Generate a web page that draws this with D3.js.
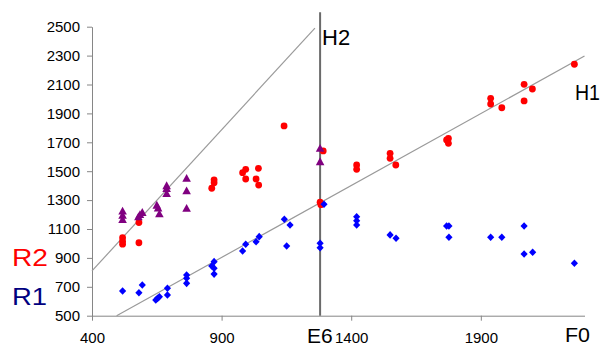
<!DOCTYPE html>
<html>
<head>
<meta charset="utf-8">
<script src="https://cdn.jsdelivr.net/npm/d3@7"></script>
<style>
  html, body { margin: 0; padding: 0; background: #fff; }
  svg text { font-family: "Liberation Sans", Arial, sans-serif; }
</style>
</head>
<body>
<div id="chart"></div>
<script>
// red circles
const redX = [518, 518, 518, 581, 581, 862, 871, 871, 981, 993, 993, 1033, 1042, 1043, 1141, 1292, 1280, 1283,
  1421, 1421, 1550, 1550, 1572, 1768, 1775, 1775, 1938, 1938, 1981, 2067, 2067, 2099, 2261];
const redY = [1040, 1015, 995, 1145, 1005, 1382, 1440, 1420, 1490, 1513, 1446, 1446, 1520, 1404, 1813, 1640, 1285, 1268,
  1543, 1513, 1624, 1589, 1543, 1716, 1727, 1693, 2004, 1965, 1939, 2101, 1986, 2069, 2240];

// blue diamonds
const blueX = [518, 581, 594, 646, 653, 660, 691, 691, 765, 765, 765, 862, 871, 871, 871, 981, 993, 1033, 1045,
  1142, 1164, 1151, 1280, 1280, 1295, 1421, 1421, 1421, 1550, 1573, 1768, 1777, 1777, 1938, 1981, 2067, 2067, 2100, 2261];
const blueY = [671, 659, 712, 609, 620, 631, 690, 643, 782, 759, 724, 844, 874, 828, 788, 948, 994, 1012, 1047,
  1167, 1128, 982, 1001, 970, 1271, 1185, 1157, 1128, 1059, 1036, 1121, 1121, 1043, 1043, 1043, 1121, 927, 939, 863];

// purple triangles
const purpleX = [518, 518, 518, 579, 585, 594, 650, 655, 660, 688, 688, 688, 765, 765, 765, 1280, 1280];
const purpleY = [1225, 1195, 1165, 1185, 1200, 1215, 1265, 1245, 1205, 1400, 1380, 1345, 1451, 1365, 1243, 1658, 1566];

// reference lines
const lineH2 = [[400, 810], [1260, 2490]];
const lineH1 = [[495, 500], [2300, 2297]];
const vLineX = 1280;
const vLineTop = 2600;

const xTicks = [400, 900, 1400, 1900];
const yTicks = [500, 700, 900, 1100, 1300, 1500, 1700, 1900, 2100, 2300, 2500];

const W = 602, H = 347;
const svg = d3.select('#chart').append('svg')
  .attr('width', W).attr('height', H);

const x = d3.scaleLinear().domain([400, 2300]).range([92, 584.5]);
const y = d3.scaleLinear().domain([500, 2500]).range([315.7, 26.7]);

const axisColor = '#868686';

// Y axis
const yAxis = svg.append('g')
  .attr('transform', `translate(${x(400)},0)`)
  .call(d3.axisLeft(y).tickValues(yTicks).tickSize(5).tickSizeOuter(0).tickPadding(7).tickFormat(d3.format('d')));
yAxis.select('.domain').attr('stroke', axisColor);
yAxis.selectAll('.tick line').attr('stroke', axisColor);
yAxis.selectAll('text').attr('font-size', 15).attr('fill', '#000')
  .style('font-family', '"Liberation Sans", Arial, sans-serif');

// X axis
const xAxis = svg.append('g')
  .attr('transform', `translate(0,${y(500)})`)
  .call(d3.axisBottom(x).tickValues(xTicks).tickSize(5).tickSizeOuter(0).tickPadding(12).tickFormat(d3.format('d')));
xAxis.select('.domain').attr('stroke', axisColor);
xAxis.selectAll('.tick line').attr('stroke', axisColor);
xAxis.selectAll('text').attr('font-size', 15).attr('fill', '#000')
  .style('font-family', '"Liberation Sans", Arial, sans-serif');

// trend lines
const line = d3.line().x(d => x(d[0])).y(d => y(d[1]));
[lineH2, lineH1].forEach(l => {
  svg.append('path').datum(l)
    .attr('d', line)
    .attr('fill', 'none')
    .attr('stroke', '#9a9a9a')
    .attr('stroke-width', 1.2);
});

// vertical line
svg.append('line')
  .attr('x1', x(vLineX)).attr('x2', x(vLineX))
  .attr('y1', y(vLineTop)).attr('y2', y(500))
  .attr('stroke', '#6a6a6a')
  .attr('stroke-width', 2);

// markers
const redPts = redX.map((v, i) => [v, redY[i]]);
const bluePts = blueX.map((v, i) => [v, blueY[i]]);
const purplePts = purpleX.map((v, i) => [v, purpleY[i]]);

svg.append('g').selectAll('circle')
  .data(redPts)
  .enter()
  .append('circle')
  .attr('cx', d => x(d[0]))
  .attr('cy', d => y(d[1]))
  .attr('r', 3.4)
  .attr('fill', '#ff0000');

svg.append('g').selectAll('path')
  .data(bluePts)
  .enter()
  .append('path')
  .attr('d', 'M0,-3.8L3.6,0L0,3.8L-3.6,0Z')
  .attr('transform', d => `translate(${x(d[0])},${y(d[1])})`)
  .attr('fill', '#0000ff');

svg.append('g').selectAll('path')
  .data(purplePts)
  .enter()
  .append('path')
  .attr('d', 'M0,-4.3L4.3,3.5L-4.3,3.5Z')
  .attr('transform', d => `translate(${x(d[0])},${y(d[1])})`)
  .attr('fill', '#800080');

// annotations
const note = (t, px, py, color, size, len) => {
  const el = svg.append('text')
    .attr('x', px).attr('y', py)
    .attr('fill', color)
    .attr('font-size', size)
    .text(t);
  if (len) el.attr('textLength', len).attr('lengthAdjust', 'spacingAndGlyphs');
};
note('H2', 322, 45, '#000', 22);
note('H1', 575, 100, '#000', 22, 25);
note('E6', 307, 342.5, '#000', 21);
note('F0', 565, 342, '#000', 21, 25);
note('R2', 12, 266, '#ff0000', 23, 36);
note('R1', 12, 305, '#000080', 23, 35);
</script>
</body>
</html>
